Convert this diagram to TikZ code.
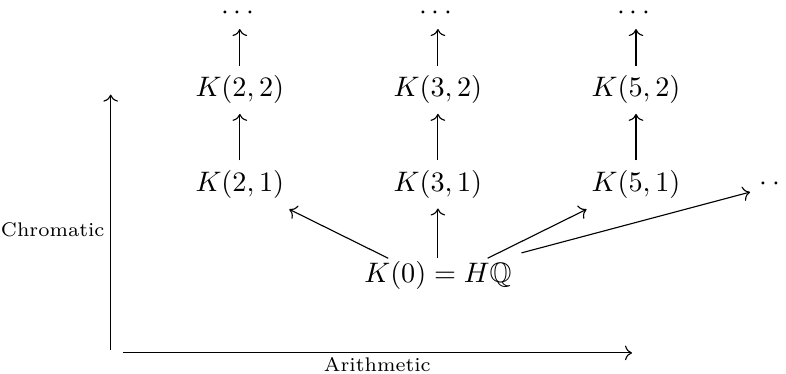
\documentclass[tikz,border=0pt]{standalone}
\usepackage{amssymb}
\usepackage{amsmath}
\usepackage{tikz}
\usetikzlibrary{arrows.meta, positioning}

\begin{document}
\begin{tikzpicture}
    \useasboundingbox (0,0) rectangle (9.80,4.66);

    % Define nodes
    \node (H) at (5.46,1.23) {$K(0) = H\mathbb{Q}$};
    \node (K21) at (2.99,2.36) {$K(2,1)$};
    \node (K31) at (5.46,2.36) {$K(3,1)$};
    \node (K51) at (7.93,2.36) {$K(5,1)$};
    \node (K22) at (2.99,3.54) {$K(2,2)$};
    \node (K32) at (5.46,3.54) {$K(3,2)$};
    \node (K52) at (7.93,3.54) {$K(5,2)$};
    \node (D2) at (2.99,4.50) {$\cdots$};
    \node (D3) at (5.46,4.50) {$\cdots$};
    \node (D5) at (7.93,4.50) {$\cdots$};
    \node (DR) at (9.71,2.36) {$\cdots$};

    % Draw towers
    \draw[->] (K21) -- (K22);
    \draw[->] (K22) -- (D2);
    \draw[->] (K31) -- (K32);
    \draw[->] (K32) -- (D3);
    \draw[->] (K51) -- (K52);
    \draw[->] (K52) -- (D5);

    % Draw maps out of K(0)
    \draw[->] ([shift={(-0.62,-0.09)}]H.north) -- ([shift={(-0.06,-0.01)}]K21.south east);
    \draw[->] ([yshift=-0.09cm]H.north) -- (K31);
    \draw[->] ([shift={(0.62,-0.09)}]H.north) -- ([shift={(0.06,-0.01)}]K51.south west);
    \draw[->] (H) -- (DR);

    % Draw axes
    \coordinate (O1) at (1.38,0.30);
    \coordinate (C) at (1.38,3.48);
    \coordinate (O2) at (1.53,0.26);
    \coordinate (A) at (7.88,0.26);
    \draw[->] (O1) -- (C) node[pos=0.47, left, inner sep=2pt] {\scriptsize Chromatic};
    \draw[->] (O2) -- (A) node[midway, below, inner sep=1.5pt] {\scriptsize Arithmetic};
\end{tikzpicture}
\end{document}
